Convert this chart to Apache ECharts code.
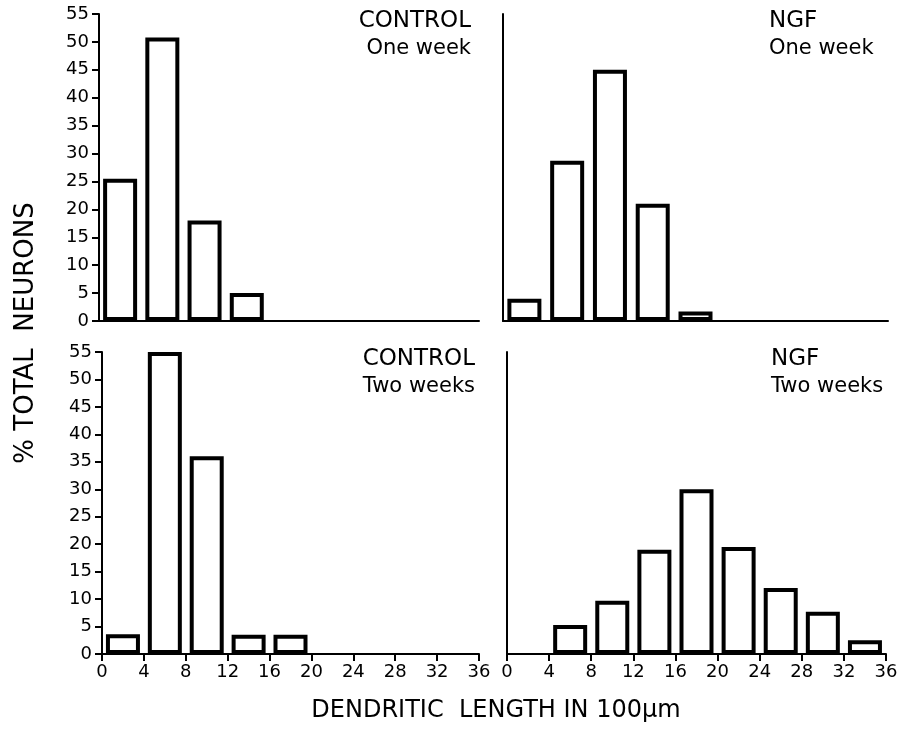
<!DOCTYPE html>
<html>
<head>
<meta charset="utf-8">
<script src="https://cdn.jsdelivr.net/npm/echarts@6/dist/echarts.min.js"></script>
<style>
  html, body { margin: 0; padding: 0; background: #fff; }
  #chart { width: 911px; height: 732px; }
</style>
</head>
<body>
<div id="chart"></div>
<script>
// bins of dendritic length (x100 µm), bin centres
const binCenters = [2, 6, 10, 14, 18, 22, 26, 30, 34];
const xTicks = [0, 4, 8, 12, 16, 20, 24, 28, 32, 36];
const yTicks = [0, 5, 10, 15, 20, 25, 30, 35, 40, 45, 50, 55];

// % total neurons per bin
const controlOneWeek = [25.5, 50.8, 18, 5];
const ngfOneWeek = [4, 28.7, 45, 21, 1.7];
const controlTwoWeeks = [3.6, 55, 36, 3.5, 3.5];
const ngfTwoWeeks = [0, 5.3, 9.7, 19, 30, 19.5, 12, 7.7, 2.5];

const panelTitles = [
  ["CONTROL", "One week"],
  ["NGF", "One week"],
  ["CONTROL", "Two weeks"],
  ["NGF", "Two weeks"],
];

const FONT = "DejaVu Sans";
const chart = echarts.init(document.getElementById("chart"));

// grid positions for the four panels
const grids = [
  { left: 99, top: 14, width: 380, height: 307 },
  { left: 503, top: 14, width: 385, height: 307 },
  { left: 102, top: 352, width: 377, height: 302 },
  { left: 507, top: 352, width: 379, height: 302 },
];

const lineStyle = { color: "#000", width: 2 };

const xAxes = grids.map((g, i) => ({
  gridIndex: i,
  type: "value",
  min: 0,
  max: 36,
  interval: 4,
  axisLine: { show: true, lineStyle: lineStyle },
  axisTick: { show: i >= 2, length: 7, lineStyle: lineStyle },
  axisLabel: {
    show: i >= 2,
    color: "#000",
    fontFamily: FONT,
    fontSize: 18,
    margin: 9,
    formatter: (v) => (xTicks.includes(v) ? String(v) : ""),
  },
  splitLine: { show: false },
}));

const yAxes = grids.map((g, i) => ({
  gridIndex: i,
  type: "value",
  min: 0,
  max: 55,
  interval: 5,
  axisLine: { show: true, lineStyle: lineStyle },
  axisTick: { show: i % 2 === 0, length: 7, lineStyle: lineStyle },
  axisLabel: {
    show: i % 2 === 0,
    color: "#000",
    fontFamily: FONT,
    fontSize: 18,
    margin: 10,
    formatter: (v) => (yTicks.includes(v) ? String(v) : ""),
  },
  splitLine: { show: false },
}));

const panelData = [controlOneWeek, ngfOneWeek, controlTwoWeeks, ngfTwoWeeks];

const series = panelData.map((vals, i) => ({
  type: "bar",
  xAxisIndex: i,
  yAxisIndex: i,
  barWidth: 34,
  silent: true,
  itemStyle: { color: "#fff", borderColor: "#000", borderWidth: 4 },
  data: vals.map((v, k) => (v > 0 ? [binCenters[k], v] : null)).filter((d) => d),
}));

// panel labels
const labelPos = [
  { x: 471, y: 10, align: "right" },
  { x: 769, y: 10, align: "left" },
  { x: 475, y: 348, align: "right" },
  { x: 771, y: 348, align: "left" },
];
const graphics = [];
panelTitles.forEach((t, i) => {
  const p = labelPos[i];
  t.forEach((line, j) => {
    graphics.push({
      type: "text",
      left: p.align === "left" ? p.x : null,
      right: p.align === "right" ? 911 - p.x : null,
      top: p.y + j * 27 + (j ? 1 : 0),
      style: {
        text: line,
        font: (j ? "21px '" : "23px '") + FONT + "'",
        fill: "#000",
      },
    });
  });
});

// axis titles
graphics.push({
  type: "text",
  x: 26,
  y: 333,
  rotation: Math.PI / 2,
  style: {
    text: "% TOTAL  NEURONS",
    font: "26px '" + FONT + "'",
    fill: "#000",
    align: "center",
    verticalAlign: "middle",
  },
});
graphics.push({
  type: "text",
  x: 496,
  y: 711,
  style: {
    text: "DENDRITIC  LENGTH IN 100µm",
    font: "24px '" + FONT + "'",
    fill: "#000",
    align: "center",
    verticalAlign: "middle",
  },
});

chart.setOption({
  animation: false,
  backgroundColor: "#fff",
  grid: grids,
  xAxis: xAxes,
  yAxis: yAxes,
  series: series,
  graphic: graphics,
});
</script>
</body>
</html>
